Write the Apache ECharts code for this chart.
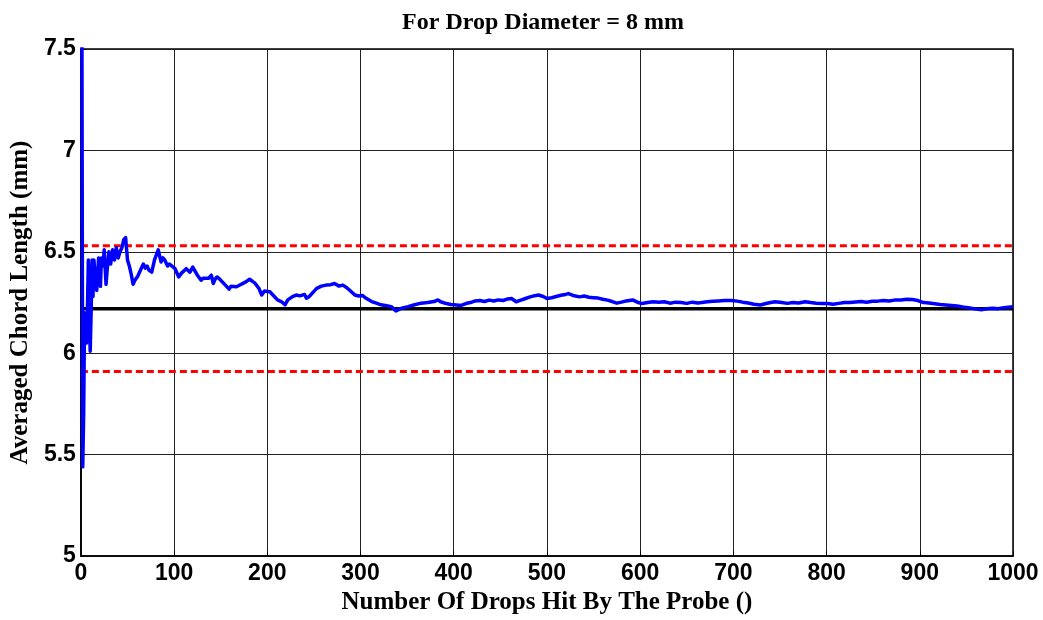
<!DOCTYPE html>
<html>
<head>
<meta charset="utf-8">
<script src="https://cdn.jsdelivr.net/npm/echarts@6/dist/echarts.min.js"></script>
<style>
  html, body { margin: 0; padding: 0; background: #fff; }
  #chart { width: 1043px; height: 620px; }
</style>
</head>
<body>
<div id="chart"></div>
<script>
// Running average of chord length versus number of drops hit by the probe
const drops = [
  1, 2, 3, 4, 5, 6, 7, 8, 9, 10,
  11, 12, 13, 14, 15, 17, 19, 20, 21, 22,
  24, 25, 27, 28, 30, 32, 34, 36, 38, 40,
  42, 44, 46, 48, 50, 52, 54, 56, 58, 61,
  64, 67, 69, 71, 73, 76, 79, 83, 86, 88,
  90, 93, 95, 97, 101, 105, 108, 110, 113, 117,
  120, 122, 125, 129, 131, 133, 137, 140, 142, 144,
  146, 149, 151, 155, 159, 161, 163, 167, 170, 172,
  177, 181, 184, 187, 191, 194, 197, 200, 203, 206,
  211, 215, 219, 222, 227, 231, 235, 240, 242, 245,
  247, 250, 253, 258, 263, 268, 272, 277, 281, 285,
  289, 294, 298, 302, 306, 312, 317, 322, 328, 333,
  338, 344, 351, 358, 365, 372, 379, 383, 386, 392,
  397, 403, 408, 413, 418, 423, 428, 433, 438, 443,
  448, 453, 458, 462, 467, 472, 477, 482, 487, 491,
  496, 500, 505, 510, 515, 520, 523, 528, 535, 540,
  545, 550, 555, 560, 565, 570, 575, 580, 585, 592,
  598, 602, 608, 614, 620, 626, 632, 638, 644, 650,
  656, 662, 666, 672, 678, 684, 690, 698, 704, 710,
  716, 722, 729, 735, 740, 745, 752, 758, 764, 770,
  777, 783, 789, 795, 801, 807, 813, 819, 825, 831,
  837, 843, 849, 855, 861, 867, 873, 880, 886, 892,
  898, 904, 910, 916, 922, 928, 934, 940, 946, 952,
  958, 964, 967, 972, 978, 984, 990, 995, 1000
];
const chordMean = [
  7.90, 5.44, 5.70, 6.20, 6.12, 6.05, 6.20, 6.46, 6.20, 6.01,
  6.20, 6.46, 6.28, 6.46, 6.40, 6.31, 6.47, 6.36, 6.33, 6.47,
  6.43, 6.51, 6.34, 6.40, 6.50, 6.44, 6.51, 6.46, 6.52, 6.47,
  6.50, 6.52, 6.56, 6.57, 6.46, 6.43, 6.39, 6.34, 6.36, 6.38,
  6.41, 6.44, 6.42, 6.43, 6.41, 6.40, 6.46, 6.51, 6.45, 6.47,
  6.46, 6.43, 6.44, 6.433, 6.417, 6.376, 6.395, 6.404, 6.417, 6.40,
  6.425, 6.433, 6.385, 6.36, 6.37, 6.376, 6.37, 6.385, 6.344, 6.365,
  6.376, 6.365, 6.36, 6.336, 6.316, 6.33, 6.339, 6.328, 6.335, 6.339,
  6.352, 6.365, 6.355, 6.344, 6.32, 6.287, 6.307, 6.305, 6.303, 6.287,
  6.263, 6.255, 6.239, 6.263, 6.279, 6.287, 6.283, 6.29, 6.271, 6.28,
  6.287, 6.305, 6.32, 6.331, 6.336, 6.338, 6.344, 6.331, 6.336, 6.324,
  6.308, 6.287, 6.282, 6.285, 6.271, 6.255, 6.247, 6.239, 6.234, 6.23,
  6.209, 6.222, 6.23, 6.239, 6.247, 6.25, 6.255, 6.263, 6.254, 6.245,
  6.24, 6.238, 6.236, 6.245, 6.25, 6.258, 6.26, 6.255, 6.262, 6.258,
  6.263, 6.26, 6.268, 6.27, 6.254, 6.262, 6.27, 6.278, 6.284, 6.287,
  6.28, 6.27, 6.274, 6.28, 6.286, 6.29, 6.294, 6.285, 6.278, 6.282,
  6.276, 6.274, 6.272, 6.266, 6.262, 6.255, 6.247, 6.252, 6.258, 6.263,
  6.25, 6.245, 6.25, 6.254, 6.252, 6.254, 6.247, 6.252, 6.25, 6.246,
  6.252, 6.248, 6.25, 6.254, 6.256, 6.258, 6.26, 6.26, 6.257, 6.252,
  6.248, 6.242, 6.238, 6.245, 6.25, 6.254, 6.25, 6.246, 6.25, 6.248,
  6.254, 6.25, 6.247, 6.245, 6.245, 6.242, 6.246, 6.25, 6.25, 6.253,
  6.255, 6.252, 6.256, 6.257, 6.26, 6.258, 6.262, 6.263, 6.266, 6.265,
  6.26, 6.25, 6.248, 6.244, 6.24, 6.238, 6.236, 6.233, 6.228, 6.225,
  6.22, 6.216, 6.215, 6.219, 6.222, 6.22, 6.225, 6.227, 6.229
];
// Reference levels: overall mean and the ±5 % band around it
const meanLevel = 6.22;
const upperLevel = 6.53;
const lowerLevel = 5.91;
const xRange = [0, 1000];
const yRange = [5, 7.5];

const sansBold = "'Liberation Sans', Arial, sans-serif";
const serifBold = "'Liberation Serif', 'Times New Roman', serif";

const chart = echarts.init(document.getElementById('chart'), null, { renderer: 'canvas' });

const levelLine = (v) => xRange.map(x => [x, v]);

const axisCommon = {
  type: 'value',
  nameLocation: 'middle',
  nameTextStyle: { fontFamily: serifBold, fontWeight: 'bold', fontSize: 25, color: '#000' },
  axisLine: { show: true, onZero: false, lineStyle: { color: '#000', width: 1.5 } },
  axisTick: { show: true, inside: true, length: 5, lineStyle: { color: '#000' } },
  splitLine: { show: true, lineStyle: { color: '#222', width: 1 } }
};

chart.setOption({
  animation: false,
  backgroundColor: '#fff',
  title: {
    text: 'For Drop Diameter = 8 mm',
    left: 538,
    textAlign: 'center',
    top: 6,
    textStyle: { fontFamily: serifBold, fontWeight: 'bold', fontSize: 24, color: '#000' }
  },
  grid: {
    left: 79, right: 30, top: 49, bottom: 57,
    show: true, borderColor: '#000', borderWidth: 1.5, backgroundColor: 'transparent'
  },
  xAxis: Object.assign({}, axisCommon, {
    min: xRange[0], max: xRange[1], interval: 100,
    name: 'Number Of Drops Hit By The Probe ()',
    nameGap: 29,
    axisLabel: {
      margin: 6, fontFamily: sansBold, fontWeight: 'bold', fontSize: 23, color: '#000',
      formatter: (v) => String(v)
    }
  }),
  yAxis: Object.assign({}, axisCommon, {
    min: yRange[0], max: yRange[1], interval: 0.5,
    name: 'Averaged Chord Length (mm)',
    nameGap: 47,
    axisLabel: {
      margin: 5, fontFamily: sansBold, fontWeight: 'bold', fontSize: 23, color: '#000',
      formatter: (v) => String(v)
    }
  }),
  series: [
    {
      name: 'mean',
      type: 'line',
      data: levelLine(meanLevel),
      showSymbol: false,
      lineStyle: { color: '#000', width: 3.5 },
      z: 3
    },
    {
      name: 'upper',
      type: 'line',
      data: levelLine(upperLevel),
      showSymbol: false,
      lineStyle: { color: '#ff0000', width: 3, type: [7, 4] },
      z: 3
    },
    {
      name: 'lower',
      type: 'line',
      data: levelLine(lowerLevel),
      showSymbol: false,
      lineStyle: { color: '#ff0000', width: 3, type: [7, 4] },
      z: 3
    },
    {
      name: 'running average',
      type: 'line',
      data: drops.map((n, i) => [n, chordMean[i]]),
      showSymbol: false,
      clip: true,
      lineStyle: { color: '#0000ff', width: 3.5, join: 'round' },
      z: 4
    }
  ]
});
</script>
</body>
</html>
